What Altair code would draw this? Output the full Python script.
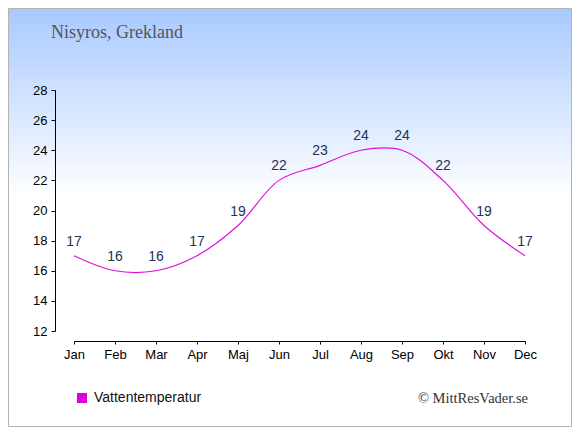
import altair as alt
import pandas as pd

months = ["Jan", "Feb", "Mar", "Apr", "Maj", "Jun", "Jul", "Aug", "Sep", "Okt", "Nov", "Dec"]
water_temp = [17, 16, 16, 17, 19, 22, 23, 24, 24, 22, 19, 17]
series_name = "Vattentemperatur"
y_ticks = [12, 14, 16, 18, 20, 22, 24, 26, 28]
title_text = "Nisyros, Grekland"
credit_text = "© MittResVader.se"

df = pd.DataFrame({"month": months, "temp": water_temp, "series": [series_name] * len(months)})

W, H = 451, 241
PAD = {"left": 66, "top": 82, "right": 47, "bottom": 96}

x_enc = alt.X("month:O", sort=months, scale=alt.Scale(padding=0),
              axis=alt.Axis(title=None, labelAngle=0, offset=10, tickSize=3, labelPadding=4,
                            domainColor="#000", tickColor="#000", labelColor="#000",
                            labelFont="Liberation Sans", labelFontSize=13, grid=False,
                            labelOverlap=False, zindex=1))
y_enc = alt.Y("temp:Q", scale=alt.Scale(domain=[12, 28], nice=False, zero=False),
              axis=alt.Axis(title=None, values=y_ticks, offset=19, tickSize=4, labelPadding=4,
                            domainColor="#000", tickColor="#000", labelColor="#000",
                            labelFont="Liberation Sans", labelFontSize=13, grid=False,
                            labelOverlap=False, zindex=1))

one = alt.Data(values=[{"k": 1}])

bg = alt.Chart(one).mark_rect(
    fill=alt.LinearGradient(gradient="linear", x1=0, y1=0, x2=0, y2=1,
                            stops=[alt.GradientStop(offset=0, color="#a8c9ff"),
                                   alt.GradientStop(offset=0.45, color="#ffffff"),
                                   alt.GradientStop(offset=1, color="#ffffff")]),
    stroke="#b4b4b4", strokeWidth=1
).encode(x=alt.value(-PAD["left"] + 0.5), x2=alt.value(W + PAD["right"] - 0.5),
         y=alt.value(-PAD["top"] + 0.5), y2=alt.value(H + PAD["bottom"] - 0.5))

line = alt.Chart(df).mark_line(interpolate="catmull-rom", strokeWidth=1.2).encode(
    x=x_enc, y=y_enc,
    color=alt.Color("series:N", scale=alt.Scale(domain=[series_name], range=["#dd11dd"]),
                    legend=alt.Legend(title=None, orient="none", legendX=1, legendY=301,
                                      symbolType="square", symbolSize=100,
                                      symbolFillColor="#dd00dd", symbolStrokeWidth=0,
                                      labelFont="Liberation Sans", labelFontSize=14,
                                      labelColor="#111", labelOffset=5, padding=0, zindex=1))
)

labels = alt.Chart(df).mark_text(dy=-14, baseline="middle", align="center",
                                 font="Liberation Sans", fontSize=14, color="#223355").encode(
    x=x_enc, y=y_enc, text="temp:Q"
)

title = alt.Chart(one).mark_text(text=title_text, align="left", baseline="alphabetic",
                                 font="Liberation Serif", fontSize=18, color="#555555").encode(
    x=alt.value(-23), y=alt.value(-52))

credit = alt.Chart(one).mark_text(text=credit_text, align="right", baseline="alphabetic",
                                  font="Liberation Serif", fontSize=14.5, color="#333333").encode(
    x=alt.value(454), y=alt.value(313))

chart = alt.layer(bg, line, labels, title, credit).properties(
    width=W, height=H, padding=PAD, autosize=alt.AutoSizeParams(type="none")
).configure_view(stroke=None).configure(background="white")

chart.save("out.html", embed_options={"renderer": "svg", "actions": False})
